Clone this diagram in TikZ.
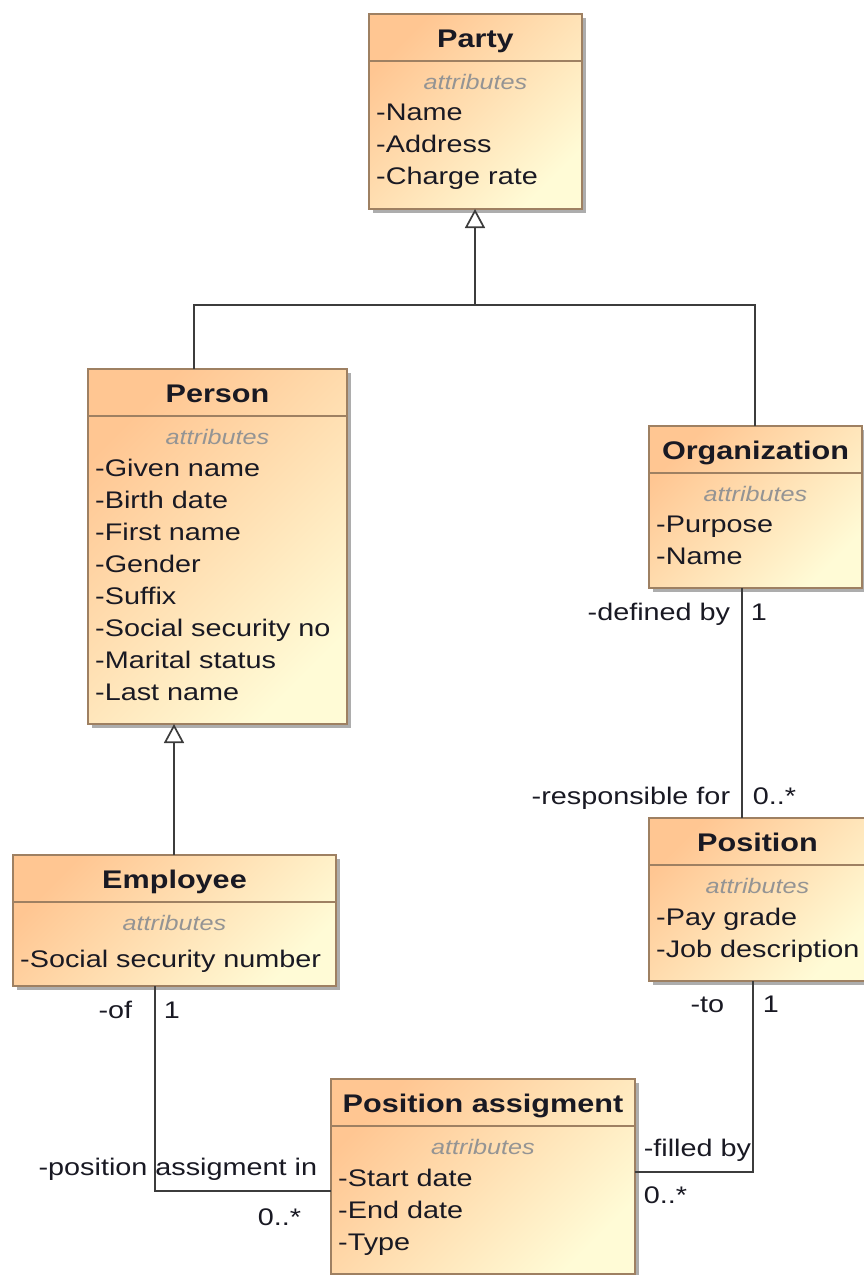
\documentclass[tikz,border=0pt]{standalone}
\usepackage{fontspec}
\setmainfont{Liberation Sans}[FakeStretch=1.2]
\usetikzlibrary{arrows.meta,shadows}
\definecolor{clsA}{RGB}{255,198,146}
\definecolor{clsB}{RGB}{255,251,214}
\definecolor{clsedge}{RGB}{158,128,98}
\definecolor{ink}{RGB}{25,25,35}
\definecolor{wirecol}{RGB}{60,60,60}
\begin{document}
\begin{tikzpicture}[x=1pt,y=-1pt,
		cls/.style={draw=clsedge,line width=1.6pt,top color=clsA,bottom color=clsB,shading angle=45,
			drop shadow={shadow xshift=4pt,shadow yshift=-4pt,fill=black!32,opacity=1},
			anchor=north west,outer sep=0pt,inner sep=0pt},
		cls rule/.style={draw=clsedge,line width=1.4pt},
		cls name/.style={font=\fontsize{25.5}{30}\selectfont\bfseries,text=ink,anchor=base,inner sep=0pt},
		cls stereo/.style={font=\fontsize{21}{26}\selectfont\itshape,text=black!42,anchor=base,inner sep=0pt},
		cls attrs/.style={font=\fontsize{24}{32}\selectfont,text=ink,align=left,anchor=north west,
			inner sep=0pt,execute at begin node=\strut},
		role/.style={font=\fontsize{24}{32}\selectfont,text=ink,inner sep=0pt},
		wire/.style={draw=wirecol,line width=1.7pt},
		gen/.style={wire,-{Triangle[open,fill=white,width=20pt,length=19pt]}}]
	\useasboundingbox (0,0) rectangle (864,1275);

	\node[cls,minimum width=213,minimum height=195] (party) at (369,14) {};
	\draw[cls rule] ([yshift=-47pt]party.north west) -- ([yshift=-47pt]party.north east);
	\node[cls name] (party name) at ([yshift=-33pt]party.north) {Party};
	\node[cls stereo] (party stereo) at ([yshift=-75pt]party.north) {attributes};
	\node[cls attrs] (party attrs) at ([xshift=7pt,yshift=-89.6pt]party.north west)
		{-Name\\-Address\\-Charge rate};

	\node[cls,minimum width=259,minimum height=355] (person) at (88,369) {};
	\draw[cls rule] ([yshift=-47pt]person.north west) -- ([yshift=-47pt]person.north east);
	\node[cls name] (person name) at ([yshift=-33pt]person.north) {Person};
	\node[cls stereo] (person stereo) at ([yshift=-75pt]person.north) {attributes};
	\node[cls attrs] (person attrs) at ([xshift=7pt,yshift=-89.6pt]person.north west)
		{-Given name\\-Birth date\\-First name\\-Gender\\-Suffix\\-Social security no\\-Marital status\\-Last name};

	\node[cls,minimum width=213,minimum height=162] (org) at (649,426) {};
	\draw[cls rule] ([yshift=-47pt]org.north west) -- ([yshift=-47pt]org.north east);
	\node[cls name] (org name) at ([yshift=-33pt]org.north) {Organization};
	\node[cls stereo] (org stereo) at ([yshift=-75pt]org.north) {attributes};
	\node[cls attrs] (org attrs) at ([xshift=7pt,yshift=-89.6pt]org.north west)
		{-Purpose\\-Name};

	\node[cls,minimum width=323,minimum height=131] (employee) at (13,855) {};
	\draw[cls rule] ([yshift=-47pt]employee.north west) -- ([yshift=-47pt]employee.north east);
	\node[cls name] (employee name) at ([yshift=-33pt]employee.north) {Employee};
	\node[cls stereo] (employee stereo) at ([yshift=-75pt]employee.north) {attributes};
	\node[cls attrs] (employee attrs) at ([xshift=7pt,yshift=-89.6pt]employee.north west)
		{-Social security number};

	\node[cls,minimum width=217,minimum height=163] (position) at (649,818) {};
	\draw[cls rule] ([yshift=-47pt]position.north west) -- ([yshift=-47pt]position.north east);
	\node[cls name] (position name) at ([yshift=-33pt]position.north) {Position};
	\node[cls stereo] (position stereo) at ([yshift=-75pt]position.north) {attributes};
	\node[cls attrs] (position attrs) at ([xshift=7pt,yshift=-89.6pt]position.north west)
		{-Pay grade\\-Job description};

	\node[cls,minimum width=304,minimum height=195] (assign) at (331,1079) {};
	\draw[cls rule] ([yshift=-47pt]assign.north west) -- ([yshift=-47pt]assign.north east);
	\node[cls name] (assign name) at ([yshift=-33pt]assign.north) {Position assigment};
	\node[cls stereo] (assign stereo) at ([yshift=-75pt]assign.north) {attributes};
	\node[cls attrs] (assign attrs) at ([xshift=7pt,yshift=-89.6pt]assign.north west)
		{-Start date\\-End date\\-Type};

	% generalizations
	\coordinate (fork) at (475,305);
	\draw[wire] ([xshift=106pt]person.north west) |- (fork) -| ([xshift=106pt]org.north west);
	\draw[gen] (fork) -- (fork |- party.south);
	\draw[gen] ([xshift=161pt]employee.north west) -- ([xshift=86pt]person.south west);

	% associations
	\draw[wire] ([xshift=93pt]org.south west) -- ([xshift=93pt]position.north west)
		node[role,at start,anchor=base east,xshift=-11pt,yshift=-32pt] (org role) {-defined by}
		node[role,at start,anchor=base west,xshift=8pt,yshift=-32pt] (org mult) {1}
		node[role,at end,anchor=base east,xshift=-11pt,yshift=14pt] (position role) {-responsible for}
		node[role,at end,anchor=base west,xshift=10pt,yshift=14pt] (position mult) {0..*};
	\draw[wire] ([xshift=142pt]employee.south west) |- ([yshift=-112pt]assign.north west)
		node[role,at start,anchor=base east,xshift=-22pt,yshift=-32pt] (employee role) {-of}
		node[role,at start,anchor=base west,xshift=8pt,yshift=-32pt] (employee mult) {1}
		node[role,at end,anchor=base east,xshift=-13pt,yshift=16pt] (assign role a) {-position assigment in}
		node[role,at end,anchor=base east,xshift=-29pt,yshift=-34pt] (assign mult a) {0..*};
	\draw[wire] ([xshift=104pt]position.south west) |- ([yshift=-93pt]assign.north east)
		node[role,at start,anchor=base east,xshift=-28pt,yshift=-31pt] (position role b) {-to}
		node[role,at start,anchor=base west,xshift=9pt,yshift=-31pt] (position mult b) {1}
		node[role,at end,anchor=base west,xshift=8pt,yshift=16pt] (assign role b) {-filled by}
		node[role,at end,anchor=base west,xshift=8pt,yshift=-31pt] (assign mult b) {0..*};
\end{tikzpicture}
\end{document}
